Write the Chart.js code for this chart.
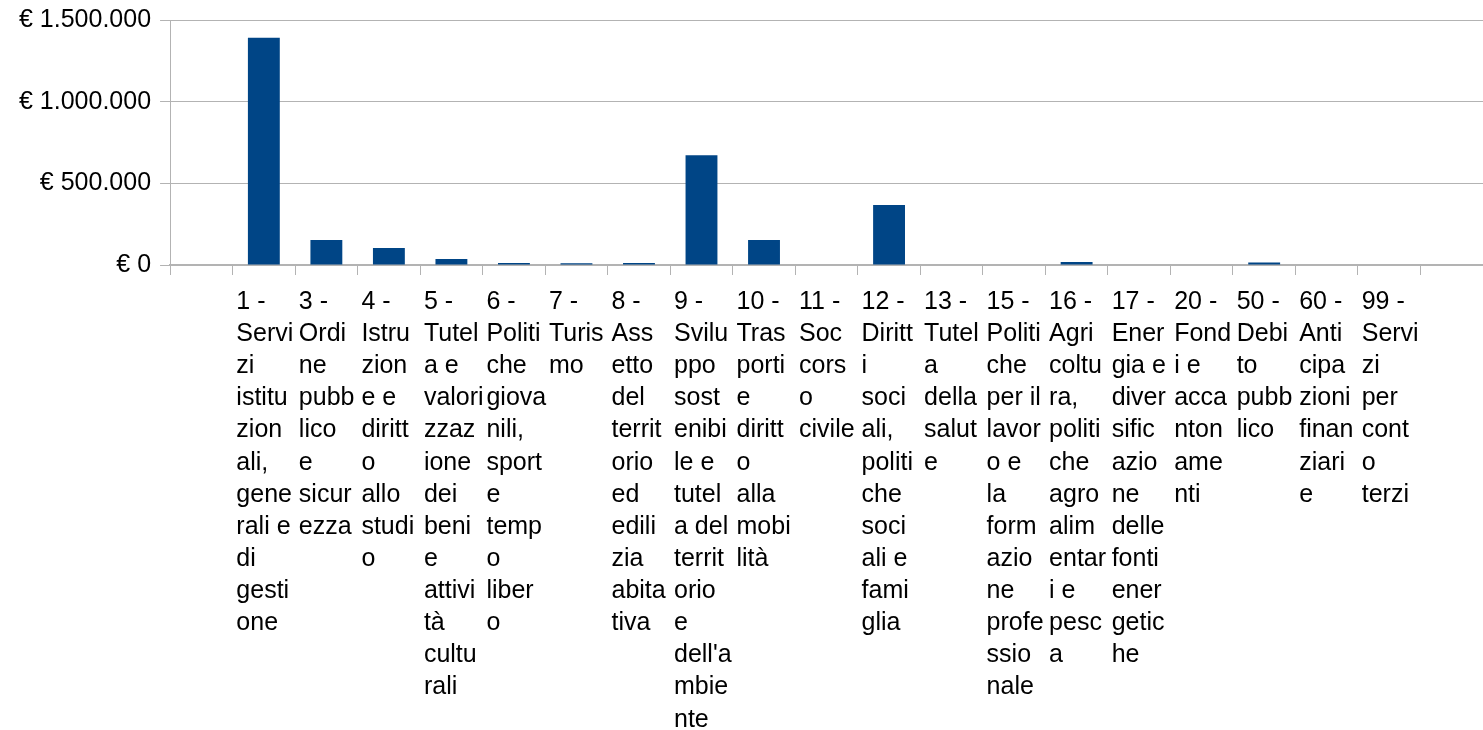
<!DOCTYPE html>
<html>
<head>
<meta charset="utf-8">
<script src="https://cdn.jsdelivr.net/npm/chart.js@4/dist/chart.umd.min.js"></script>
<style>
  html, body { margin: 0; padding: 0; background: #fff; }
  #wrap { width: 1483px; height: 730px; position: relative; }
</style>
</head>
<body>
<div id="wrap"><canvas id="c"></canvas></div>
<script>
// Category labels (as wrapped in the reference); empty slots at both ends
const categories = [
  [""],
  ["1 -","Servi","zi","istitu","zion","ali,","gene","rali e","di","gesti","one"],
  ["3 -","Ordi","ne","pubb","lico","e","sicur","ezza"],
  ["4 -","Istru","zion","e e","diritt","o","allo","studi","o"],
  ["5 -","Tutel","a e","valori","zzaz","ione","dei","beni","e","attivi","tà","cultu","rali"],
  ["6 -","Politi","che","giova","nili,","sport","e","temp","o","liber","o"],
  ["7 -","Turis","mo"],
  ["8 -","Ass","etto","del","territ","orio","ed","edili","zia","abita","tiva"],
  ["9 -","Svilu","ppo","sost","enibi","le e","tutel","a del","territ","orio","e","dell'a","mbie","nte"],
  ["10 -","Tras","porti","e","diritt","o","alla","mobi","lità"],
  ["11 -","Soc","cors","o","civile"],
  ["12 -","Diritt","i","soci","ali,","politi","che","soci","ali e","fami","glia"],
  ["13 -","Tutel","a","della","salut","e"],
  ["15 -","Politi","che","per il","lavor","o e","la","form","azio","ne","profe","ssio","nale"],
  ["16 -","Agri","coltu","ra,","politi","che","agro","alim","entar","i e","pesc","a"],
  ["17 -","Ener","gia e","diver","sific","azio","ne","delle","fonti","ener","getic","he"],
  ["20 -","Fond","i e","acca","nton","ame","nti"],
  ["50 -","Debi","to","pubb","lico"],
  ["60 -","Anti","cipa","zioni","finan","ziari","e"],
  ["99 -","Servi","zi","per","cont","o","terzi"],
  [""]
];
// Values in euro
const values = [
  null,
  1393000, 153000, 104000, 37000, 12000, 11000, 12000,
  673000, 153000, 0, 367000, 0, 0, 18000, 0, 0, 16000, 0, 0,
  null
];
// Y axis ticks
const yTicks = [0, 500000, 1000000, 1500000];

function euro(v) {
  const s = Math.round(v).toString().replace(/\B(?=(\d{3})+(?!\d))/g, ".");
  return "€ " + s;
}

const GRID = "#b3b3b3";
const FONT = "'Liberation Sans', Arial, sans-serif";

new Chart(document.getElementById("c"), {
  type: "bar",
  data: {
    labels: categories,
    datasets: [{
      data: values,
      backgroundColor: "#004586",
      borderWidth: 0,
      categoryPercentage: 1,
      barPercentage: 0.51
    }]
  },
  options: {
    responsive: true,
    maintainAspectRatio: false,
    animation: false,
    layout: { padding: { top: 2, left: 10, right: 0, bottom: 0 } },
    plugins: { legend: { display: false }, tooltip: { enabled: false } },
    scales: {
      x: {
        offset: true,
        afterFit: (s) => { s.height = 465; },
        grid: { offset: true, drawOnChartArea: false, drawTicks: true, tickLength: 10, color: GRID, lineWidth: 1 },
        border: { color: GRID, width: 2 },
        ticks: {
          autoSkip: false, maxRotation: 0, minRotation: 0,
          align: "start", labelOffset: -27.5, padding: 11,
          color: "#000",
          font: { family: FONT, size: 25, lineHeight: 1.285 }
        }
      },
      y: {
        min: 0, max: 1500000,
        afterBuildTicks: (s) => { s.ticks = yTicks.map(v => ({ value: v })); },
        grid: { color: GRID, tickLength: 10, lineWidth: 1 },
        border: { color: GRID, width: 1 },
        ticks: {
          color: "#000", padding: 9,
          font: { family: FONT, size: 25, lineHeight: 0.9 },
          callback: (v) => euro(v)
        }
      }
    }
  }
});
</script>
</body>
</html>
